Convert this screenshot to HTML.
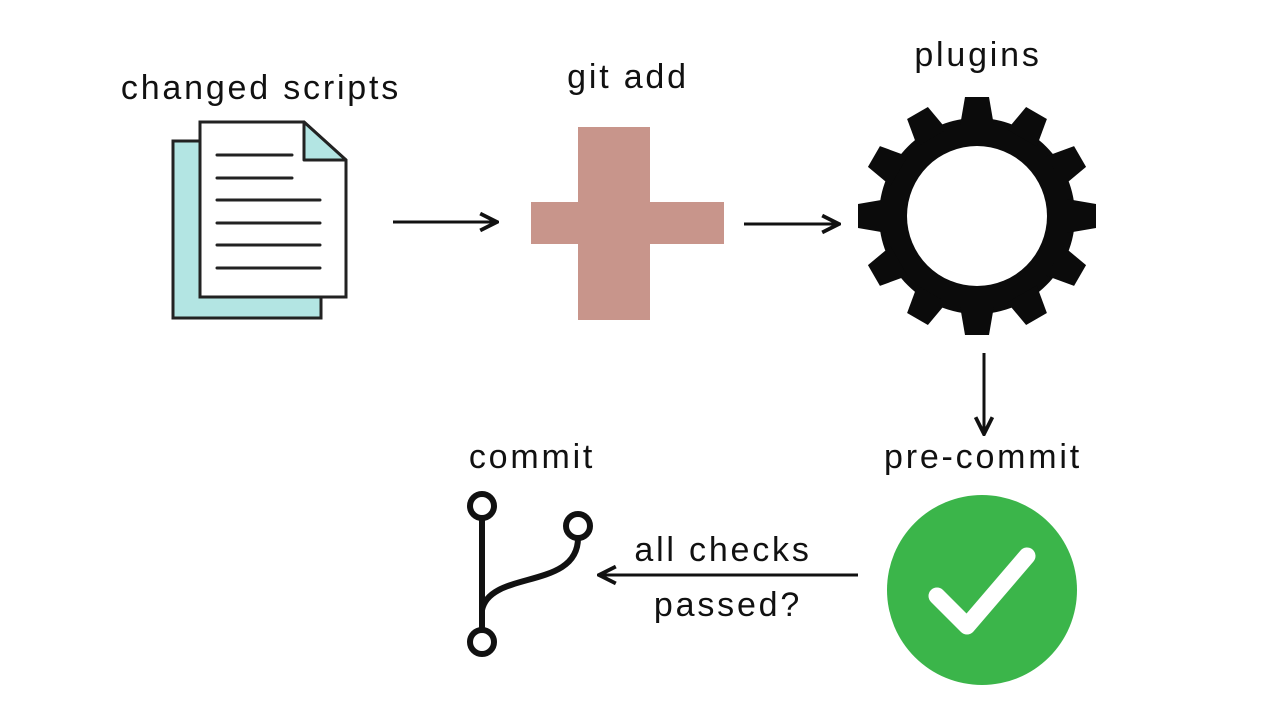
<!DOCTYPE html>
<html><head><style>
body{margin:0;background:#fff;}
svg{display:block}
text{font-family:"Liberation Sans",sans-serif;font-size:34px;fill:#111;text-anchor:middle;letter-spacing:2.8px}
</style></head><body>
<svg width="1280" height="720" viewBox="0 0 1280 720">
<defs>
<marker id="a" viewBox="0 0 10 10" refX="9" refY="5" markerWidth="7" markerHeight="7" orient="auto"><path d="M1,1 L9,5 L1,9" fill="none" stroke="#111" stroke-width="1.8"/></marker>
</defs>
<text x="261" y="99">changed scripts</text>
<text x="628" y="88">git add</text>
<text x="978" y="66">plugins</text>
<text x="983" y="468">pre-commit</text>
<text x="532" y="468">commit</text>
<text x="723" y="561">all checks</text>
<text x="728" y="616">passed?</text>
<!-- document -->
<rect x="173" y="141" width="148" height="177" fill="#b3e5e3" stroke="#222" stroke-width="3"/>
<path d="M200,122 L304,122 L346,160 L346,297 L200,297 Z" fill="#fff" stroke="#222" stroke-width="3"/>
<path d="M304,122 L304,160 L346,160 Z" fill="#b3e5e3" stroke="#222" stroke-width="3" stroke-linejoin="round"/>
<g stroke="#222" stroke-width="3" stroke-linecap="round">
<line x1="217" y1="155" x2="292" y2="155"/><line x1="217" y1="178" x2="292" y2="178"/>
<line x1="217" y1="200" x2="320" y2="200"/><line x1="217" y1="223" x2="320" y2="223"/>
<line x1="217" y1="245" x2="320" y2="245"/><line x1="217" y1="268" x2="320" y2="268"/>
</g>
<!-- plus -->
<rect x="578" y="127" width="72" height="193" fill="#c8958b"/>
<rect x="531" y="202" width="193" height="42" fill="#c8958b"/>
<!-- gear -->
<g transform="translate(977,216)" fill="#0b0b0b">
<circle r="98"/>
<g id="t"><path d="M-12,-119 L12,-119 L17,-90 L-17,-90 Z"/></g>
<use href="#t" transform="rotate(30)"/><use href="#t" transform="rotate(60)"/><use href="#t" transform="rotate(90)"/>
<use href="#t" transform="rotate(120)"/><use href="#t" transform="rotate(150)"/><use href="#t" transform="rotate(180)"/>
<use href="#t" transform="rotate(210)"/><use href="#t" transform="rotate(240)"/><use href="#t" transform="rotate(270)"/>
<use href="#t" transform="rotate(300)"/><use href="#t" transform="rotate(330)"/>
<circle r="70" fill="#fff"/>
</g>
<!-- check -->
<circle cx="982" cy="590" r="95" fill="#3bb54a"/>
<path d="M937,596 L967,626 L1027,556" fill="none" stroke="#fff" stroke-width="17" stroke-linecap="round" stroke-linejoin="round"/>
<!-- git -->
<g fill="none" stroke="#111" stroke-width="6">
<line x1="482" y1="518" x2="482" y2="630"/>
<path d="M578,538 C578,590 490,570 482,610"/>
<circle cx="482" cy="506" r="12" fill="#fff"/>
<circle cx="578" cy="526" r="12" fill="#fff"/>
<circle cx="482" cy="642" r="12" fill="#fff"/>
</g>
<!-- arrows -->
<g stroke="#111" stroke-width="3" fill="none" marker-end="url(#a)">
<line x1="393" y1="222" x2="497" y2="222"/>
<line x1="744" y1="224" x2="839" y2="224"/>
<line x1="984" y1="353" x2="984" y2="434"/>
<line x1="858" y1="575" x2="599" y2="575"/>
</g>
</svg>
</body></html>
